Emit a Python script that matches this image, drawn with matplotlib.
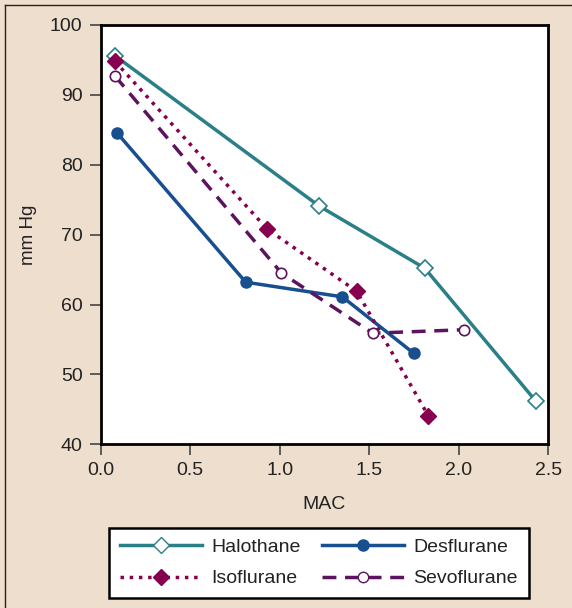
import matplotlib.pyplot as plt
from matplotlib.lines import Line2D

# data
halo_x = [0.08, 1.22, 1.81, 2.43]
halo_y = [95.6, 74.1, 65.2, 46.2]
des_x = [0.09, 0.81, 1.35, 1.75]
des_y = [84.6, 63.2, 61.1, 53.0]
iso_x = [0.08, 0.93, 1.43, 1.83]
iso_y = [94.8, 70.8, 61.9, 44.1]
sevo_x = [0.08, 1.01, 1.52, 2.03]
sevo_y = [92.7, 64.5, 55.9, 56.4]

bg = '#eedecd'
c_halo = '#2b7f86'
c_des = '#174f8f'
c_iso = '#86004f'
c_sevo = '#5c145f'

plt.rcParams['font.family'] = 'Liberation Sans'

fig = plt.figure(figsize=(5.72, 6.08), dpi=100, facecolor=bg)
ax = fig.add_axes([0.176, 0.2692, 0.7825, 0.6897])
ax.set_facecolor('white')

ax.plot(halo_x, halo_y, '-', color=c_halo, lw=2.5, marker='D', ms=8.5,
        mfc='white', mec=c_halo, mew=1.2, label='Halothane')
ax.plot(des_x, des_y, '-', color=c_des, lw=2.5, marker='o', ms=8,
        mfc=c_des, mec=c_des, label='Desflurane')
ax.plot(iso_x, iso_y, ':', color=c_iso, lw=2.5, marker='D', ms=8.5,
        mfc=c_iso, mec=c_iso, label='Isoflurane')
ax.plot(sevo_x, sevo_y, '--', color=c_sevo, lw=2.5, marker='o', ms=7.5,
        mfc='white', mec=c_sevo, mew=1.2, label='Sevoflurane', dashes=(4, 2.5))

ax.set_xlim(0, 2.5)
ax.set_ylim(40, 100)
ax.set_xticks([0, 0.5, 1.0, 1.5, 2.0, 2.5])
ax.set_xticklabels(['0.0', '0.5', '1.0', '1.5', '2.0', '2.5'])
ax.set_yticks(range(40, 101, 10))
ax.tick_params(direction='out', length=8, width=1.2, color='#444444',
               labelsize=14, labelcolor='#222222', pad=5)
for s in ax.spines.values():
    s.set_linewidth(2)
    s.set_color('black')

ax.set_xlabel('MAC', fontsize=14, labelpad=12, color='#222222')
ax.set_ylabel('mm Hg', fontsize=13.5, labelpad=9, color='#222222')

handles = [
    Line2D([], [], color=c_halo, lw=2.5, marker='D', ms=8.5, mfc='white', mec=c_halo),
    Line2D([], [], color=c_des, lw=2.5, marker='o', ms=8, mfc=c_des, mec=c_des),
    Line2D([], [], color=c_iso, lw=2.5, ls=':', marker='D', ms=8.5, mfc=c_iso, mec=c_iso),
    Line2D([], [], color=c_sevo, lw=2.5, ls='--', dashes=(4, 2.5), marker='o', ms=7.5,
           mfc='white', mec=c_sevo),
]
labels = ['Halothane', 'Desflurane', 'Isoflurane', 'Sevoflurane']
leg = fig.legend([handles[0], handles[2], handles[1], handles[3]],
                 [labels[0], labels[2], labels[1], labels[3]],
                 ncol=2, loc='center', bbox_to_anchor=(0.5577, 0.074),
                 fontsize=14, frameon=True, fancybox=False, framealpha=1,
                 handlelength=4.2, columnspacing=1.1, handletextpad=0.5,
                 borderpad=0.55, labelspacing=0.7)
leg.get_frame().set_edgecolor('black')
leg.get_frame().set_linewidth(1.8)
for t in leg.get_texts():
    t.set_color('#222222')

# thin border on top and left of the picture
fig.add_artist(Line2D([5 / 572, 5 / 572], [0, 1 - 5 / 608], color='#222222',
                      lw=1, transform=fig.transFigure))
fig.add_artist(Line2D([5 / 572, 1], [1 - 5 / 608, 1 - 5 / 608], color='#222222',
                      lw=1, transform=fig.transFigure))

fig.savefig('out.png', dpi=100, facecolor=bg)
